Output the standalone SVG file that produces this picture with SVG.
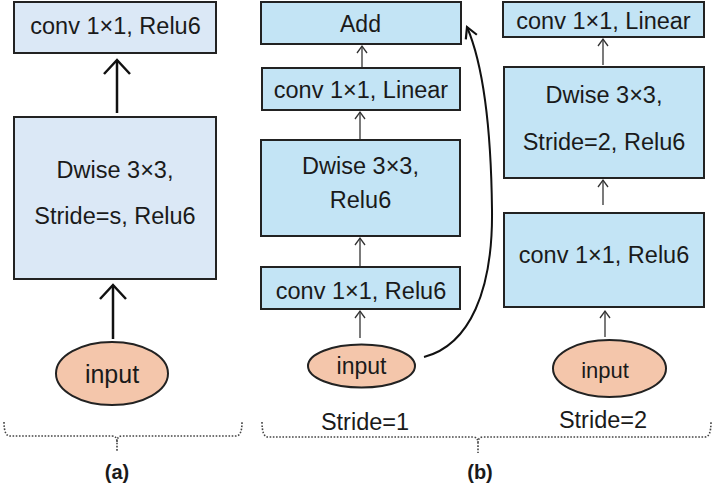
<svg xmlns="http://www.w3.org/2000/svg" width="714" height="492" viewBox="0 0 714 492">
<style>
.bg{fill:#ffffff}
.boxA{fill:#dbe8f6;stroke:#222;stroke-width:2}
.boxB{fill:#c3e4f5;stroke:#222;stroke-width:2}
.ell{fill:#f4c6ab;stroke:#222;stroke-width:2}
text{font-family:"Liberation Sans",Arial,sans-serif;fill:#1a1a1a;text-anchor:middle;font-size:23.5px}
.lbl{font-weight:bold;font-size:20px}
.thick{stroke:#111;stroke-width:2.5;fill:none}
.thin{stroke:#333;stroke-width:1.3;fill:none}
.curve{stroke:#111;stroke-width:2;fill:none}
.brace{stroke:#444;stroke-width:1.6;fill:none;stroke-dasharray:1.6 1.6}
</style>
<defs>
<marker id="hA" markerUnits="userSpaceOnUse" viewBox="-16 -16 32 32" markerWidth="32" markerHeight="32" refX="0" refY="0" orient="auto">
<path d="M-14,-13 L0,0 L-14,13" fill="none" stroke="#111" stroke-width="2.5"/>
</marker>
<marker id="hB" markerUnits="userSpaceOnUse" viewBox="-10 -10 20 20" markerWidth="20" markerHeight="20" refX="0" refY="0" orient="auto">
<path d="M-7,-5 L0,0 L-7,5" fill="none" stroke="#333" stroke-width="1.3"/>
</marker>
<marker id="hC" markerUnits="userSpaceOnUse" viewBox="-14 -14 28 28" markerWidth="28" markerHeight="28" refX="0" refY="0" orient="auto">
<path d="M-11,-6 L0,0 L-11,6" fill="none" stroke="#111" stroke-width="2.2"/>
</marker>
</defs>
<rect class="bg" x="0" y="0" width="714" height="492"/>

<g id="connectors">
<path class="thick" d="M117,113 L117,60" marker-end="url(#hA)"/>
<path class="thick" d="M113,339 L113,285" marker-end="url(#hA)"/>
<path class="thin" d="M362,68 L362,46" marker-end="url(#hB)"/>
<path class="thin" d="M360,140 L360,112" marker-end="url(#hB)"/>
<path class="thin" d="M360,266 L360,238" marker-end="url(#hB)"/>
<path class="thin" d="M360,338 L360,311" marker-end="url(#hB)"/>
<path class="thin" d="M603,65 L603,39" marker-end="url(#hB)"/>
<path class="thin" d="M603,205 L603,180" marker-end="url(#hB)"/>
<path class="thin" d="M605,337 L605,311" marker-end="url(#hB)"/>
<path class="curve" d="M424,357 C470,345 493,290 492,210 C491,120 482,62 467,27" marker-end="url(#hC)"/>
</g>

<g id="a_conv">
<rect class="boxA" x="14" y="2" width="202" height="51"/>
<text x="115.5" y="34">conv 1×1, Relu6</text>
</g>
<g id="a_dwise">
<rect class="boxA" x="14" y="117" width="202" height="162"/>
<text x="115" y="178">Dwise 3×3,</text>
<text x="115" y="224">Stride=s, Relu6</text>
</g>
<g id="a_input">
<ellipse class="ell" cx="112" cy="373.5" rx="56" ry="31.5"/>
<text x="112" y="383" style="font-size:25px">input</text>
</g>

<g id="b1_add">
<rect class="boxB" x="261" y="2" width="200" height="42"/>
<text x="360.5" y="32" style="font-size:23px">Add</text>
</g>
<g id="b1_linear">
<rect class="boxB" x="262" y="68" width="198" height="42"/>
<text x="361" y="98">conv 1×1, Linear</text>
</g>
<g id="b1_dwise">
<rect class="boxB" x="261" y="140" width="199" height="96"/>
<text x="360.5" y="174">Dwise 3×3,</text>
<text x="360.5" y="208">Relu6</text>
</g>
<g id="b1_conv">
<rect class="boxB" x="261" y="267" width="199" height="42"/>
<text x="361" y="299">conv 1×1, Relu6</text>
</g>
<g id="b1_input">
<ellipse class="ell" cx="361.5" cy="366" rx="53.5" ry="21.5"/>
<text x="361.5" y="374" style="font-size:23px">input</text>
</g>

<g id="b2_linear">
<rect class="boxB" x="503" y="2" width="201" height="35"/>
<text x="603.5" y="29">conv 1×1, Linear</text>
</g>
<g id="b2_dwise">
<rect class="boxB" x="504" y="67" width="200" height="111"/>
<text x="604" y="103">Dwise 3×3,</text>
<text x="604" y="150">Stride=2, Relu6</text>
</g>
<g id="b2_conv">
<rect class="boxB" x="504" y="213" width="200" height="94"/>
<text x="604" y="263">conv 1×1, Relu6</text>
</g>
<g id="b2_input">
<ellipse class="ell" cx="609.5" cy="368.5" rx="56.5" ry="28.5"/>
<text x="605" y="378" style="font-size:22px">input</text>
</g>

<g id="labels">
<text x="365" y="430">Stride=1</text>
<text x="603" y="428">Stride=2</text>
<path class="brace" d="M4,422 Q4,436 10,436 L112,436 Q117,436 117,442 L117,452 M117,442 Q117,436 122,436 L236,436 Q242,436 242,422"/>
<path class="brace" d="M262,422 Q262,437 268,437 L473,437 Q478,437 478,443 L478,453 M478,443 Q478,437 483,437 L705,437 Q711,437 711,422"/>
<text class="lbl" x="117" y="479">(a)</text>
<text class="lbl" x="480" y="479">(b)</text>
</g>
</svg>
